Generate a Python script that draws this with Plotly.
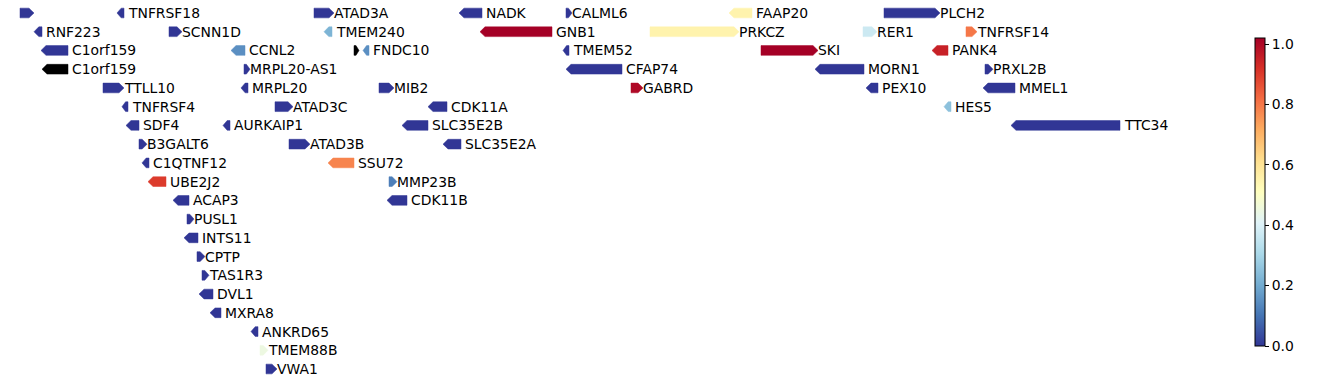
import plotly.graph_objects as go
from plotly.colors import sample_colorscale

# ---- data: gene name, start, end, strand, track row, value (None = missing) ----
genes = ["", "TNFRSF18", "ATAD3A", "NADK", "CALML6", "FAAP20", "PLCH2",
         "RNF223", "SCNN1D", "TMEM240", "GNB1", "PRKCZ", "RER1", "TNFRSF14",
         "C1orf159", "CCNL2", "", "FNDC10", "TMEM52", "SKI", "PANK4",
         "C1orf159", "MRPL20-AS1", "CFAP74", "MORN1", "PRXL2B",
         "TTLL10", "MRPL20", "MIB2", "GABRD", "PEX10", "MMEL1",
         "TNFRSF4", "ATAD3C", "CDK11A", "HES5",
         "SDF4", "AURKAIP1", "SLC35E2B", "TTC34",
         "B3GALT6", "ATAD3B", "SLC35E2A",
         "C1QTNF12", "SSU72",
         "UBE2J2", "MMP23B",
         "ACAP3", "CDK11B",
         "PUSL1", "INTS11", "CPTP", "TAS1R3", "DVL1", "MXRA8",
         "ANKRD65", "TMEM88B", "VWA1"]
starts = [20, 117, 314, 459, 566, 729, 884,
          34, 169, 324, 480, 650, 863, 966,
          41, 231, 354, 363, 563, 761, 932,
          42, 244, 566, 815, 985,
          103, 241, 379, 631, 866, 983,
          122, 275, 428, 944,
          126, 223, 402, 1011,
          139, 289, 443,
          142, 328,
          148, 389,
          173, 387,
          187, 184, 197, 202, 199, 210,
          251, 260, 266]
ends = [34, 124, 334, 482, 572, 752, 940,
        42, 182, 332, 552, 739, 877, 977,
        68, 245, 359, 369, 569, 818, 948,
        68, 250, 622, 864, 993,
        124, 248, 394, 643, 878, 1015,
        128, 293, 447, 951,
        139, 230, 428, 1120,
        147, 310, 461,
        149, 354,
        166, 397,
        189, 407,
        194, 198, 205, 209, 213, 221,
        258, 268, 277]
strands = ["+", "-", "+", "-", "+", "-", "+",
           "-", "+", "-", "-", "+", "+", "+",
           "-", "-", "+", "-", "-", "+", "-",
           "-", "+", "-", "-", "+",
           "+", "-", "+", "+", "-", "-",
           "-", "+", "-", "-",
           "-", "-", "-", "-",
           "+", "+", "-",
           "-", "-",
           "-", "+",
           "-", "-",
           "+", "-", "+", "+", "-", "-",
           "-", "+", "+"]
rows = [0, 0, 0, 0, 0, 0, 0,
        1, 1, 1, 1, 1, 1, 1,
        2, 2, 2, 2, 2, 2, 2,
        3, 3, 3, 3, 3,
        4, 4, 4, 4, 4, 4,
        5, 5, 5, 5,
        6, 6, 6, 6,
        7, 7, 7,
        8, 8,
        9, 9,
        10, 10,
        11, 12, 13, 14, 15, 16,
        17, 18, 19]
values = [0.0, 0.0, 0.0, 0.0, 0.0, 0.55, 0.0,
          0.0, 0.0, 0.22, 1.02, 0.55, 0.37, 0.8,
          0.0, 0.15, None, 0.15, 0.0, 1.02, 0.95,
          None, 0.0, 0.0, 0.0, 0.0,
          0.0, 0.0, 0.0, 1.0, 0.0, 0.0,
          0.0, 0.0, 0.0, 0.25,
          0.0, 0.0, 0.0, 0.0,
          0.0, 0.0, 0.0,
          0.0, 0.78,
          0.9, 0.12,
          0.0, 0.0,
          0.0, 0.0, 0.0, 0.0, 0.0, 0.0,
          0.0, 0.45, 0.0]

colorbar_ticks = [0.0, 0.2, 0.4, 0.6, 0.8, 1.0]
vmin, vmax = 0.0, 1.02

rdylbu_r = ["#313695", "#4575b4", "#74add1", "#abd9e9", "#e0f3f8", "#ffffbf",
            "#fee090", "#fdae61", "#f46d43", "#d73027", "#a50026"]
cscale = [[i / 10, c] for i, c in enumerate(rdylbu_r)]

HALF_H = 0.26
FONT = "DejaVu Sans"

fig = go.Figure()
annotations = []
for name, s, e, strand, r, v in zip(genes, starts, ends, strands, rows, values):
    if v is None:
        col = "black"
    else:
        t = min(max((v - vmin) / (vmax - vmin), 0), 1)
        col = sample_colorscale(cscale, [t])[0]
    L = e - s
    head = min(5.0, 0.6 * L)
    if strand == "+":
        xs = [s, e - head, e, e - head, s, s]
        ys = [r - HALF_H, r - HALF_H, r, r + HALF_H, r + HALF_H, r - HALF_H]
        lx = e - 0.8
    else:
        xs = [e, s + head, s, s + head, e, e]
        ys = [r - HALF_H, r - HALF_H, r, r + HALF_H, r + HALF_H, r - HALF_H]
        lx = e + 3.2
    fig.add_trace(go.Scatter(x=xs, y=ys, mode="lines", fill="toself",
                             fillcolor=col, line=dict(color=col, width=0.5),
                             hoverinfo="text", text=name, showlegend=False))
    if name:
        annotations.append(dict(x=lx, y=r, xref="x", yref="y", text=name,
                                showarrow=False, xanchor="left", yanchor="middle",
                                borderpad=0,
                                font=dict(family=FONT, size=13.9, color="black")))

# colorbar carrier
fig.add_trace(go.Scatter(
    x=[None], y=[None], mode="markers", showlegend=False, hoverinfo="skip",
    marker=dict(color=[vmin], colorscale=cscale, cmin=vmin, cmax=vmax, size=0,
                showscale=True,
                colorbar=dict(thickness=10, thicknessmode="pixels",
                              len=308, lenmode="pixels",
                              x=1.0121, xanchor="left", xpad=0,
                              y=1 - 192 / 383, yanchor="middle", ypad=0,
                              outlinewidth=1, outlinecolor="black",
                              tickvals=colorbar_ticks,
                              ticktext=[f"{t:.1f}" for t in colorbar_ticks],
                              ticks="outside", ticklen=4, tickwidth=1,
                              tickcolor="black",
                              tickfont=dict(family=FONT, size=13.9, color="black")))))

row_px = (369 - 13) / 19
fig.update_layout(
    width=1338, height=383,
    margin=dict(l=0, r=98, t=0, b=0),
    plot_bgcolor="white", paper_bgcolor="white",
    annotations=annotations,
    xaxis=dict(range=[0, 1240], visible=False, fixedrange=True),
    yaxis=dict(range=[19 + (383 - 369) / row_px, -13 / row_px],
               visible=False, fixedrange=True),
)
fig.write_html("out.html")
